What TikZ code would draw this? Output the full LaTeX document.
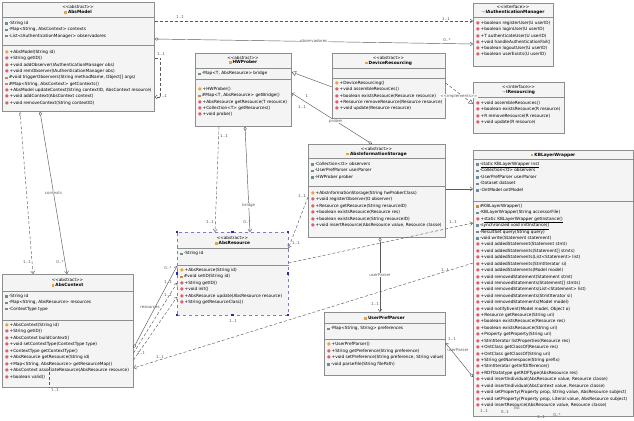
\documentclass[tikz,border=0pt]{standalone}
\usepackage{fontspec}
\newfontfamily\umlfont{DejaVu Sans}
\usetikzlibrary{arrows.meta,calc}
\definecolor{boxfill}{HTML}{F4F4F4}
\definecolor{boxline}{HTML}{8E8E8E}
\definecolor{wire}{HTML}{5A5A5A}
\definecolor{fldc}{HTML}{6F8C99}
\definecolor{ctorc}{HTML}{E8A33A}
\definecolor{mthc}{HTML}{D9606E}
\definecolor{protc}{HTML}{C98A4A}
\definecolor{selc}{HTML}{7B7BC8}
\definecolor{handlec}{HTML}{2B2BB0}
% member icons
\newcommand{\st}{\rule{0pt}{3.3pt}}
\newcommand{\fld}{\textcolor{fldc}{\rule[-0.3pt]{2.5pt}{2.5pt}}\hspace{1.2pt}}
\newcommand{\ctor}{\textcolor{ctorc}{●}\hspace{0.8pt}}
\newcommand{\mth}{\textcolor{mthc}{●}\hspace{0.8pt}}
\newcommand{\prot}{\textcolor{protc}{\rule[-0.3pt]{2.5pt}{2.5pt}}\hspace{1.2pt}}
\newcommand{\absicon}{\textcolor{ctorc}{\rule[-0.3pt]{2.8pt}{2.8pt}}\hspace{1pt}}
\newcommand{\ificon}{\textcolor{boxline}{⊸}\hspace{0.5pt}}
\newcommand{\stereo}[1]{<\kern0pt<#1>\kern0pt>}
\tikzset{
  classbox/.style={draw=boxline, fill=boxfill, anchor=north west, inner sep=0pt, line width=0.5pt},
  divider/.style={draw=boxline, line width=0.5pt},
  members/.style={anchor=north west, inner sep=0pt, align=left, font=\umlfont\fontsize{4.25}{#1}\selectfont},
  members/.default=6.4,
  head/.style={inner sep=0pt, font=\umlfont\fontsize{4.2}{5}\selectfont},
  headname/.style={inner sep=0pt, font=\umlfont\bfseries\fontsize{4.3}{5}\selectfont},
  mult/.style={inner sep=0.3pt, font=\umlfont\fontsize{4}{5}\selectfont, text=wire},
  assoc/.style={draw=wire, line width=0.45pt},
  dep/.style={assoc, dash pattern=on 3pt off 2pt},
  nav/.style={-{Straight Barb[length=2.5pt,width=4pt]}},
  own/.style={{Diamond[open,length=4.5pt,width=3pt]}-{Straight Barb[length=2.5pt,width=4pt]}},
  gen/.style={-{Triangle[open,length=4.5pt,width=5pt]}}
}
\begin{document}
\begin{tikzpicture}[x=1pt,y=-1pt]
\useasboundingbox[fill=white] (0,0) rectangle (634,420);

% AbsModel
\node[classbox, minimum width=152, minimum height=109] (absmodel) at (2,2) {};
\node[head] at (78,6.5) {\stereo{abstract}};
\node[headname] at (78,12.5) {\absicon AbsModel};
\draw[divider] (absmodel.west |- 0,17) -- (absmodel.east |- 0,17);
\draw[divider] (absmodel.west |- 0,45) -- (absmodel.east |- 0,45);
\node[members] at (5,20.9) {\st\fld-String id\\\fld-Map<String, AbsContext> contexts\\\fld-List<IAuthenticationManager> observadores};
\node[members=6.35] at (5,49.9) {\st\ctor+AbsModel(String id)\\\mth+String getID()\\\mth+void addObserver(IAuthenticationManager obs)\\\mth+void remObserver(IAuthenticationManager obs)\\\prot\#void triggerObservers(String methodName, Object[] args)\\\prot\#Map<String, AbsContext> getContexts()\\\mth+AbsModel updateContext(String contextID, AbsContext resource)\\\mth+void addContext(AbsContext context)\\\mth+void removeContext(String contextID)};

% IAuthenticationManager
\node[classbox, minimum width=80, minimum height=63] (iauth) at (473,3) {};
\node[head] at (513,7) {\stereo{interface}};
\node[headname] at (513,12.5) {\ificon IAuthenticationManager};
\draw[divider] (iauth.west |- 0,17) -- (iauth.east |- 0,17);
\node[members=6.3] at (476,20.9) {\st\mth+boolean registerUser(U userID)\\\mth+boolean loginUser(U userID)\\\mth+T authenticateUser(U userID)\\\mth+void handleAuthenticationFail()\\\mth+boolean logoutUser(U userID)\\\mth+boolean userExists(U userID)};

% HWProber
\node[classbox, minimum width=96, minimum height=73] (hwprober) at (195,53) {};
\node[head] at (243,57.5) {\stereo{abstract}};
\node[headname] at (243,62.5) {\absicon HWProber};
\draw[divider] (hwprober.west |- 0,68) -- (hwprober.east |- 0,68);
\draw[divider] (hwprober.west |- 0,79.5) -- (hwprober.east |- 0,79.5);
\node[members] at (198,71.4) {\st\fld-Map<T, AbsResource> bridge};
\node[members=6.3] at (198,86.9) {\st\ctor+HWProber()\\\prot\#Map<T, AbsResource> getBridge()\\\mth+AbsResource getResource(T resource)\\\mth+Collection<T> getResources()\\\mth+void probe()};

% DeviceResourcing
\node[classbox, minimum width=113, minimum height=65] (devres) at (332,53) {};
\node[head] at (388.5,57.5) {\stereo{abstract}};
\node[headname] at (388.5,63) {\absicon DeviceResourcing};
\draw[divider] (devres.west |- 0,68) -- (devres.east |- 0,68);
\draw[divider] (devres.west |- 0,78) -- (devres.east |- 0,78);
\node[members=6.3] at (335,80.9) {\st\ctor+DeviceResourcing()\\\mth+void assembleResources()\\\mth+boolean existsResource(Resource resource)\\\mth+Resource removeResource(Resource resource)\\\mth+void update(Resource resource)};

% IResourcing
\node[classbox, minimum width=91, minimum height=51] (ires) at (473,82) {};
\node[head] at (518.5,86.5) {\stereo{interface}};
\node[headname] at (518.5,92) {\ificon IResourcing};
\draw[divider] (ires.west |- 0,97) -- (ires.east |- 0,97);
\node[members=6.3] at (476,100.9) {\st\mth+void assembleResources()\\\mth+boolean existsResource(R resource)\\\mth+R removeResource(R resource)\\\mth+void update(R resource)};

% AbsInformationStorage
\node[classbox, minimum width=137, minimum height=93] (storage) at (308,144) {};
\node[head] at (376.5,149) {\stereo{abstract}};
\node[headname] at (376.5,154) {\absicon AbsInformationStorage};
\draw[divider] (storage.west |- 0,158.5) -- (storage.east |- 0,158.5);
\draw[divider] (storage.west |- 0,186) -- (storage.east |- 0,186);
\node[members=6.5] at (311,161.9) {\st\fld-Collection<O> observers\\\fld-UserPrefParser userParser\\\fld-HWProber prober};
\node[members=6.4] at (311,190.9) {\st\ctor+AbsInformationStorage(String hwProberClass)\\\mth+void registerObserver(O observer)\\\mth+Resource getResource(String resourceID)\\\mth+boolean existsResource(Resource res)\\\mth+boolean existsResource(String resourceID)\\\mth+void insertResource(AbsResource value, Resource classe)};

% KBLayerWrapper
\node[classbox, minimum width=160, minimum height=266] (kblayer) at (473,150) {};
\node[headname] at (553,155) {\absicon KBLayerWrapper};
\draw[divider] (kblayer.west |- 0,159.5) -- (kblayer.east |- 0,159.5);
\draw[divider] (kblayer.west |- 0,201) -- (kblayer.east |- 0,201);
\node[members=6.5] at (476,161.9) {\st\fld-\underline{static KBLayerWrapper inst}\\\fld-Collection<O> observers\\\fld-UserPrefParser userParser\\\fld-Dataset dataset\\\fld-OntModel ontModel};
\node[members=6.42] at (476,203.9) {\st\prot\#KBLayerWrapper()\\\fld-KBLayerWrapper(String accessorFile)\\\mth+\underline{static KBLayerWrapper getInstance()}\\\fld-\underline{synchronized void initInstance()}\\\fld-ResultSet query(String query)\\\fld-void write(Statement statement)\\\mth+void addedStatement(Statement stmt)\\\mth+void addedStatements(Statement[] stmts)\\\mth+void addedStatements(List<Statement> list)\\\mth+void addedStatements(StmtIterator si)\\\mth+void addedStatements(Model model)\\\mth+void removedStatement(Statement stmt)\\\mth+void removedStatements(Statement[] stmts)\\\mth+void removedStatements(List<Statement> list)\\\mth+void removedStatements(StmtIterator si)\\\mth+void removedStatements(Model model)\\\mth+void notifyEvent(Model model, Object o)\\\mth+Resource getResource(String uri)\\\mth+boolean existsResource(Resource res)\\\mth+boolean existsResource(String uri)\\\mth+Property getProperty(String uri)\\\mth+StmtIterator listProperties(Resource res)\\\mth+OntClass getClassOf(Resource res)\\\mth+OntClass getClassOf(String uri)\\\mth+String getNamespace(String prefix)\\\mth+StmtIterator getInfDifference()\\\mth+RDFDatatype getRDFType(AbsResource res)\\\mth+void insertIndividual(AbsResource value, Resource classe)\\\mth+void insertIndividual(AbsContext value, Resource classe)\\\mth+void setProperty(Property prop, String value, AbsResource subject)\\\mth+void setProperty(Property prop, Literal value, AbsResource subject)\\\mth+void insertResource(AbsResource value, Resource classe)};

% AbsResource (selected)
\node[classbox, draw=selc, dashed, minimum width=111, minimum height=83] (absres) at (177,232) {};
\node[head] at (232.5,237.5) {\stereo{abstract}};
\node[headname] at (232.5,243) {\absicon AbsResource};
\draw[divider] (absres.west |- 0,248) -- (absres.east |- 0,248);
\draw[divider] (absres.west |- 0,265) -- (absres.east |- 0,265);
\node[members] at (180,251.4) {\st\fld-String id};
\node[members=6.4] at (180,267.9) {\st\ctor+AbsResource(String id)\\\prot\#void setID(String id)\\\mth+String getID()\\\mth+void init()\\\mth+AbsResource update(AbsResource resource)\\\mth+String getResourceClass()};
\foreach \hx/\hy in {177/232,232.5/232,288/232,177/273.5,288/273.5,177/315,232.5/315,288/315}
  \fill[handlec] (\hx-1.2,\hy-1.2) rectangle (\hx+1.2,\hy+1.2);

% AbsContext
\node[classbox, minimum width=131, minimum height=113] (abscontext) at (2,274) {};
\node[head] at (67.5,280) {\stereo{abstract}};
\node[headname] at (67.5,285.5) {\absicon AbsContext};
\draw[divider] (abscontext.west |- 0,291) -- (abscontext.east |- 0,291);
\draw[divider] (abscontext.west |- 0,320) -- (abscontext.east |- 0,320);
\node[members=6.3] at (5,294) {\st\fld-String id\\\fld-Map<String, AbsResource> resources\\\fld-ContextType type};
\node[members=6.5] at (5,322.9) {\st\ctor+AbsContext(String id)\\\mth+String getID()\\\mth+AbsContext buildContext()\\\mth+void setContextType(ContextType type)\\\mth+ContextType getContextType()\\\mth+AbsResource getResource(String id)\\\mth+Map<String, AbsResource> getResourceMap()\\\mth+AbsContext associateResource(AbsResource resource)\\\mth+boolean valid()};

% UserPrefParser
\node[classbox, minimum width=121, minimum height=63] (userpref) at (324,312) {};
\node[headname] at (384.5,318) {\absicon UserPrefParser};
\draw[divider] (userpref.west |- 0,323) -- (userpref.east |- 0,323);
\draw[divider] (userpref.west |- 0,339) -- (userpref.east |- 0,339);
\node[members] at (327,326.4) {\st\fld-Map<String, String> preferences};
\node[members=6.6] at (327,341.9) {\st\ctor+UserPrefParser()\\\mth+String getPreference(String preference)\\\mth+void setPreference(String preference, String value)\\\fld-void parseFile(String filePath)};

% connectors
\draw[dep, nav] (absmodel.east |- 0,21) -- (iauth.west |- 0,21);
\node[mult] at (180,17.5) {1..1};
\node[mult] at (446,19) {1..1};
\draw[assoc, own] (absmodel.east |- 0,39) -- (iauth.west |- 0,44)
  node[mult, fill=white, pos=0.5] {observadores};
\node[mult] at (447,40) {0..*};
\draw[dep, nav] (absmodel.east |- 0,58) -- (160,58) -- (160,97) -- (absmodel.east |- 0,97);
\node[mult] at (161,54.5) {1..1};
\node[mult] at (163,96) {1..1};
\draw[assoc, own] (absmodel.south -| 40,0) -- (abscontext.north -| 67,0)
  node[mult, fill=white, pos=0.5] {contexts};
\draw[dep, nav] (absmodel.south -| 20,0) -- (abscontext.north -| 33,0);
\node[mult] at (20,115.5) {1};
\node[mult] at (27,262) {1..1};
\node[mult] at (60,262) {0..*};
\draw[assoc, gen] (devres.west |- 0,87) -- (hwprober.east |- 0,72);
\draw[assoc, own] (storage.north -| 372,0) -- (hwprober.east |- 0,93)
  node[mult, pos=0.45, fill=white] {prober};
\node[mult] at (307,96) {1};
\node[mult] at (302,107) {1..1};
\draw[dep, gen] (devres.east |- 0,83) -- (ires.west |- 0,104);
\node[mult, fill=white] at (459,96) {\stereo{implements}};
\draw[assoc, nav] (storage.east |- 0,189) -- (kblayer.west |- 0,189);
\draw[dep, nav] (absres.east |- 0,263) -- (kblayer.west |- 0,223);
\node[mult] at (453,222) {1..1};
\draw[dep, nav] (storage.west |- 0,197) -- (absres.east |- 0,248);
\node[mult] at (302,196) {1..1};
\node[mult] at (296,243) {1..1};
\draw[dep, nav] (kblayer.west |- 0,263) -- (abscontext.east |- 0,368);
\node[mult] at (445,270) {1..1};
\node[mult] at (160,357) {1..1};
\draw[assoc, own] (hwprober.south -| 245,0) -- (absres.north -| 250,0)
  node[mult, pos=0.75, fill=white] {bridge};
\node[mult] at (247,222) {0..*};
\draw[dep, nav] (hwprober.south -| 219,0) -- (absres.north -| 215,0);
\node[mult] at (224,136) {1..1};
\node[mult] at (210,222) {1..1};
\draw[assoc, own] (abscontext.east |- 0,348) -- (absres.west |- 0,266);
\node[mult] at (150,307) {resources};
\node[mult] at (168,268) {0..*};
\draw[dep, nav] (abscontext.east |- 0,353) -- (absres.west |- 0,283);
\node[mult] at (168,282) {1..1};
\node[mult] at (141,353) {1..1};
\draw[dep, nav] (abscontext.east |- 0,360) -- (absres.west |- 0,297);
\node[mult] at (168,295) {1..1};
\node[mult] at (233,321) {1..1};
\draw[assoc, own] (storage.south -| 380,0) -- (userpref.north -| 380,0)
  node[mult, pos=0.5, fill=white] {userParser};
\node[mult] at (375,304) {1..1};
\draw[assoc, own] (kblayer.west |- 0,377) -- (userpref.east |- 0,343);
\node[mult] at (452,339) {1..1};
\node[mult] at (458,350) {userParser};
\draw[dep] (49,362) -- (abscontext.south -| 49,0);
\node[mult] at (55,390) {1..1};
% stubs under KBLayerWrapper
\node[mult] at (484,411) {1..1};
\node[mult] at (505,412) {0..1};
\node[mult] at (517,408) {list};
\node[mult] at (541,417) {1..1};
\node[mult] at (557,415) {0..*};
\end{tikzpicture}
\end{document}
